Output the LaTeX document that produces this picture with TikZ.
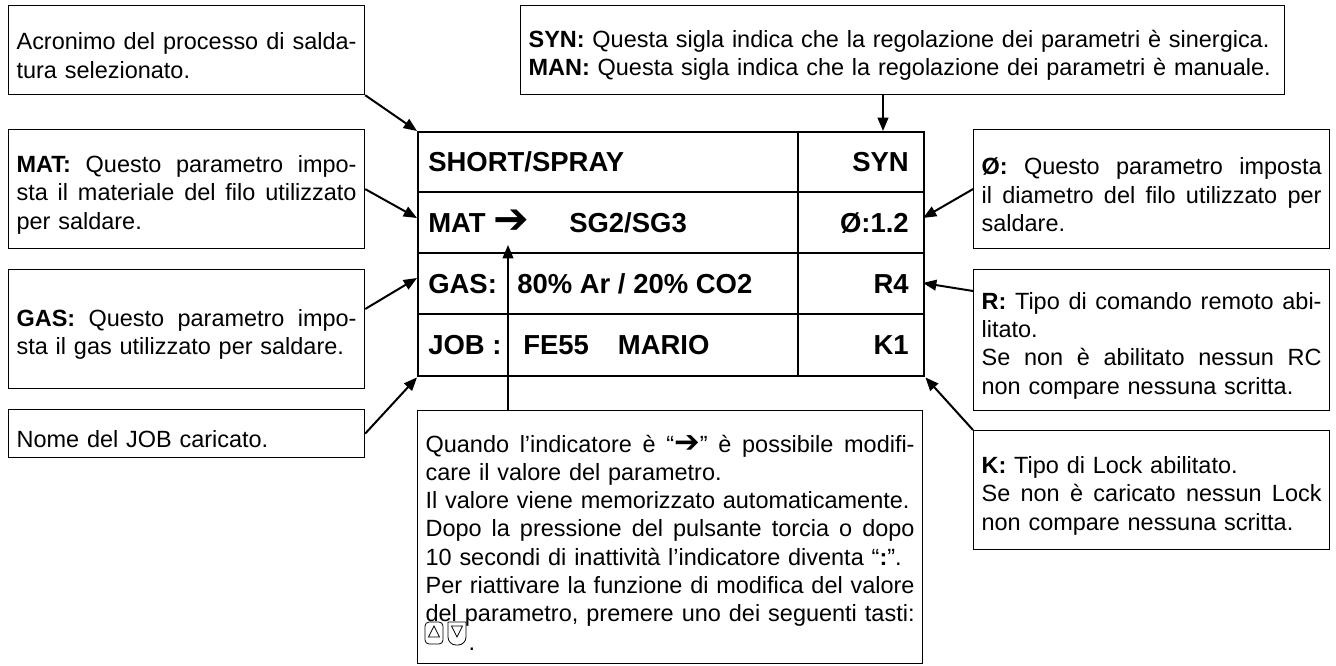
\documentclass[tikz,border=0pt]{standalone}
\usepackage{fontspec}
\setmainfont{Liberation Sans}
\newfontfamily\djv{DejaVu Sans}
\usetikzlibrary{arrows.meta,calc}
\newcommand\txtsz{\fontsize{17.6pt}{21.2pt}\selectfont}
\newcommand\dispsz{\fontsize{20.6pt}{24pt}\selectfont\bfseries}
\newcommand\s{\hskip 0.278em plus 1fil\relax}
\newcommand\jl[1]{\par\hbox to 255pt{#1}}
\newcommand\jc[1]{\par\hbox to 366.75pt{#1}}
\newcommand\nl[1]{\par\hbox{#1}}
\begin{document}
\begin{tikzpicture}[x=0.75pt,y=-0.75pt,
  note/.style={draw,line width=0.9pt,anchor=north west,text width=255pt,inner xsep=6pt,inner ysep=0pt,font=\txtsz},
  conn/.style={line width=1.5pt,-{Triangle[length=10pt,width=8pt]}},
  disp/.style={font=\dispsz,inner sep=0pt},
  grid/.style={line width=1.1pt},
  btn/.style={line width=0.6pt}]
\useasboundingbox (0,0) rectangle (1336,666);

% left notes
\node[note,minimum height=66.75pt] (acr) at (8,5)
  {\jl{Acronimo\s del\s processo\s di\s salda-}\nl{tura selezionato.}};
\node[note,minimum height=89.25pt] (mat) at (8,129)
  {\jl{\textbf{MAT:}\s Questo\s parametro\s impo-}\jl{sta\s il\s materiale\s del\s filo\s utilizzato}\nl{per saldare.}};
\node[note,minimum height=89.25pt] (gas) at (8,269)
  {\jl{\textbf{GAS:}\s Questo\s parametro\s impo-}\nl{sta il gas utilizzato per saldare.}};
\node[note,minimum height=36pt] (nome) at (8,409)
  {\nl{Nome del JOB caricato.}};

% top note
\node[note,text width=561pt,minimum height=66.75pt] (syn) at (520,5)
  {\nl{\textbf{SYN:} Questa sigla indica che la regolazione dei parametri è sinergica.}\nl{\textbf{MAN:} Questa sigla indica che la regolazione dei parametri è manuale.}};

% right notes
\node[note,minimum height=89.25pt] (phi) at (973,129)
  {\jl{\textbf{Ø:}\s Questo\s parametro\s imposta}\jl{il\s diametro\s del\s filo\s utilizzato\s per}\nl{saldare.}};
\node[note,minimum height=105.75pt] (rem) at (973,269)
  {\jl{\textbf{R:}\s Tipo\s di\s comando\s remoto\s abi-}\nl{litato.}\jl{Se\s non\s è\s abilitato\s nessun\s RC}\nl{non compare nessuna scritta.}};
\node[note,minimum height=89.25pt] (lock) at (973,430)
  {\nl{\textbf{K:} Tipo di Lock abilitato.}\jl{Se\s non\s è\s caricato\s nessun\s Lock}\nl{non compare nessuna scritta.}};

% bottom centre note
\node[note,text width=366.75pt,inner ysep=10pt] (info) at (417,410)
  {\jc{Quando\s l’indicatore\s è\s “{\djv\fontsize{23pt}{23pt}\selectfont ➔}”\s è\s possibile\s modifi-}\nl{care il valore del parametro.}\nl{Il valore viene memorizzato automaticamente.}\jc{Dopo\s la\s pressione\s del\s pulsante\s torcia\s o\s dopo}\nl{10 secondi di inattività l’indicatore diventa “\textbf{:}”.}\jc{Per\s riattivare\s la\s funzione\s di\s modifica\s del\s valore}\jc{del\s parametro,\s premere\s uno\s dei\s seguenti\s tasti:}\nl{\hspace*{32.25pt}.}\par\vskip 30pt};

% buttons
\draw[btn,rounded corners=3pt] (425,622) rectangle (443,644);
\draw[btn] (434,626) -- (439.5,637) -- (428.5,637) -- cycle;
\draw[btn] (448,622) -- (466,622) [rounded corners=6pt] -- (466,645) -- (448,645) [sharp corners] -- cycle;
\draw[btn] (451.5,626) -- (462.5,626) -- (457,637) -- cycle;

% display
\node[draw,line width=1.8pt,anchor=north west,minimum width=379.5pt,minimum height=183pt,inner sep=0pt] (display) at (417,131) {};
\draw[grid] (417,192) -- (923,192);
\draw[grid] (417,253) -- (923,253);
\draw[grid] (417,314) -- (923,314);
\draw[grid] (798,131) -- (798,375);

\node[disp,anchor=base west] (d1) at (428,171.4) {SHORT/SPRAY};
\node[disp,anchor=base east] (d1r) at (909,171.4) {SYN};
\node[disp,anchor=base west] (d2) at (428,232.4) {MAT {\djv\mdseries\fontsize{32pt}{32pt}\selectfont\raisebox{-1pt}{➔}}};
\node[disp,anchor=base west] (d2m) at (569,232.4) {SG2/SG3};
\node[disp,anchor=base east] (d2r) at (909,232.4) {Ø:1.2};
\node[disp,anchor=base west] (d3) at (428,293.4) {GAS:};
\node[disp,anchor=base west] (d3m) at (517,293.4) {80\% Ar / 20\% CO2};
\node[disp,anchor=base east] (d3r) at (909,293.4) {R4};
\node[disp,anchor=base west] (d4) at (428,354.4) {JOB :};
\node[disp,anchor=base west] (d4m) at (523,354.4) {FE55\hspace{21.75pt}MARIO};
\node[disp,anchor=base east] (d4r) at (909,354.4) {K1};

% connector targets
\coordinate (matin) at (417,218);
\coordinate (gasin) at (417,278);
\coordinate (synin) at (883,131);
\coordinate (phiin) at (923,218);
\coordinate (remin) at (923,283);
\coordinate (tip) at (508,245);

% connectors
\draw[conn] (acr.south east) -- (display.north west);
\draw[conn] (mat.east) -- (matin);
\draw[conn] ($(gas.north east)+(0,40)$) -- (gasin);
\draw[conn] (nome.east) -- (display.south west);
\draw[conn] (syn.south -| synin) -- (synin);
\draw[conn] (phi.west) -- (phiin);
\draw[conn] ($(rem.north west)+(0,22)$) -- (remin);
\draw[conn] (lock.north west) -- (display.south east);
\draw[conn] (info.north -| tip) -- (tip);
\end{tikzpicture}
\end{document}
